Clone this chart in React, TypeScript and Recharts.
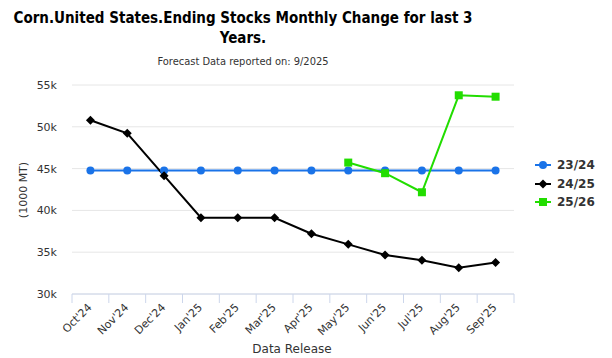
import { LineChart, Line, XAxis, YAxis, CartesianGrid } from "recharts";

const categories = [
  "Oct'24", "Nov'24", "Dec'24", "Jan'25", "Feb'25", "Mar'25",
  "Apr'25", "May'25", "Jun'25", "Jul'25", "Aug'25", "Sep'25",
];
const series2324 = [44780, 44780, 44780, 44780, 44780, 44780, 44780, 44780, 44780, 44780, 44780, 44780];
const series2425 = [50780, 49230, 44150, 39120, 39120, 39120, 37210, 35940, 34670, 34040, 33150, 33780];
const series2526 = [null, null, null, null, null, null, null, 45720, 44450, 42170, 53770, 53600];
const yTicks = [30000, 35000, 40000, 45000, 50000, 55000];
const seriesNames = ["23/24", "24/25", "25/26"];
const seriesColors = ["#1a73e8", "#000000", "#22dd00"];

const data = categories.map((c, i) => ({
  month: c,
  s1: series2324[i],
  s2: series2425[i],
  s3: series2526[i],
}));

const font = "'DejaVu Sans', sans-serif";
const PLOT_W = 442;
const HALF = PLOT_W / categories.length / 2;

const XTick = (props: any) => {
  const { x, y, payload, index } = props;
  return (
    <g>
      <line x1={x - HALF} y1={y} x2={x - HALF} y2={y + 9} stroke="#ccd6eb" />
      {index === categories.length - 1 && (
        <line x1={x + HALF} y1={y} x2={x + HALF} y2={y + 9} stroke="#ccd6eb" />
      )}
      <text
        x={x + 2}
        y={y + 14}
        transform={`rotate(-45 ${x + 2} ${y + 14})`}
        textAnchor="end"
        fontSize={11}
        fill="#333"
        fontFamily={font}
      >
        {payload.value}
      </text>
    </g>
  );
};

const Circle = (props: any) => {
  const { cx, cy, value } = props;
  if (value == null) return null;
  return <circle cx={cx} cy={cy} r={4} fill={seriesColors[0]} />;
};
const Diamond = (props: any) => {
  const { cx, cy, value } = props;
  if (value == null) return null;
  return <path d={`M${cx},${cy - 4.5}L${cx + 4.5},${cy}L${cx},${cy + 4.5}L${cx - 4.5},${cy}Z`} fill={seriesColors[1]} />;
};
const Square = (props: any) => {
  const { cx, cy, value } = props;
  if (value == null) return null;
  return <rect x={cx - 4} y={cy - 4} width={8} height={8} fill={seriesColors[2]} />;
};

export default function App() {
  return (
    <div style={{ position: "absolute", left: 0, top: 0, width: 612, height: 358, background: "#fff", fontFamily: font }}>
      <div style={{ position: "absolute", left: 0, width: 486, top: 8, textAlign: "center", fontFamily: "'DejaVu Sans Condensed', 'DejaVu Sans', sans-serif", fontSize: 15, fontWeight: "bold", lineHeight: "20px", color: "#000" }}>
        Corn.United States.Ending Stocks Monthly Change for last 3<br />Years.
      </div>
      <div style={{ position: "absolute", left: 0, width: 486, top: 55, textAlign: "center", fontFamily: "'DejaVu Sans Condensed', 'DejaVu Sans', sans-serif", fontSize: 11, color: "#333" }}>
        Forecast Data reported on: 9/2025
      </div>
      <div style={{ position: "absolute", left: 23, top: 190, transform: "translate(-50%, -50%) rotate(-90deg)", fontSize: 11, color: "#333", whiteSpace: "nowrap" }}>
        (1000 MT)
      </div>
      <div style={{ position: "absolute", left: 292, top: 342, transform: "translateX(-50%)", fontSize: 12, color: "#333", whiteSpace: "nowrap" }}>
        Data Release
      </div>
      <div style={{ position: "absolute", left: 535, top: 156 }}>
        {seriesNames.map((n, i) => (
          <div key={n} style={{ display: "flex", alignItems: "center", height: 18.5 }}>
            <svg width={16} height={10}>
              <line x1={0} y1={5} x2={16} y2={5} stroke={seriesColors[i]} strokeWidth={2} />
              {i === 0 && <circle cx={8} cy={5} r={4} fill={seriesColors[0]} />}
              {i === 1 && <path d="M8,0.5L12.5,5L8,9.5L3.5,5Z" fill={seriesColors[1]} />}
              {i === 2 && <rect x={4} y={1} width={8} height={8} fill={seriesColors[2]} />}
            </svg>
            <span style={{ marginLeft: 6, fontSize: 12, fontWeight: "bold", color: "#333" }}>{n}</span>
          </div>
        ))}
      </div>
      <LineChart width={612} height={358} data={data} margin={{ top: 85, right: 98, bottom: 14, left: 0 }}>
        <CartesianGrid vertical={false} stroke="#e6e6e6" />
        <XAxis
          dataKey="month"
          interval={0}
          padding={{ left: HALF, right: HALF }}
          tickSize={0}
          tickMargin={0}
          tickLine={false}
          height={50}
          stroke="#ccd6eb"
          tick={<XTick />}
        />
        <YAxis
          domain={[30000, 55000]}
          ticks={yTicks}
          width={72}
          axisLine={false}
          tickLine={false}
          tickSize={0}
          tickMargin={15}
          tickFormatter={(v: number) => `${v / 1000}k`}
          tick={{ fontSize: 11, fill: "#333", fontFamily: font }}
        />
        <Line dataKey="s1" stroke={seriesColors[0]} strokeWidth={2} dot={<Circle />} isAnimationActive={false} />
        <Line dataKey="s2" stroke={seriesColors[1]} strokeWidth={2} dot={<Diamond />} isAnimationActive={false} />
        <Line dataKey="s3" stroke={seriesColors[2]} strokeWidth={2} dot={<Square />} isAnimationActive={false} />
      </LineChart>
    </div>
  );
}
